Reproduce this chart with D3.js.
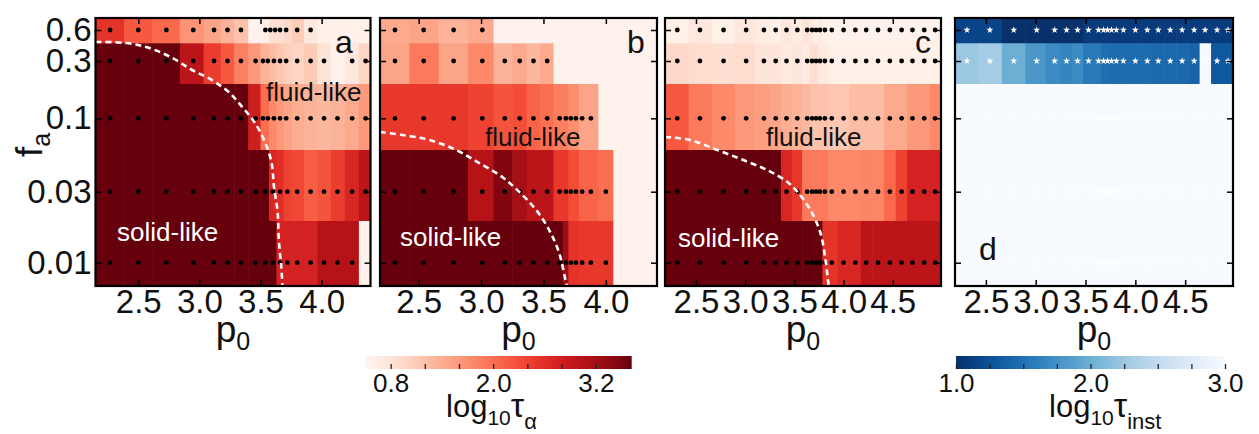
<!DOCTYPE html>
<html><head><meta charset="utf-8">
<script src="https://cdn.jsdelivr.net/npm/d3@7"></script>
<style>
body{margin:0;background:#fff}
text{font-family:"Liberation Sans",Arial,Helvetica,sans-serif}
</style></head>
<body><svg id="fig" width="1259" height="434"></svg>
<script>
// ---------------- data ----------------
const faValues = [0.6, 0.3, 0.1, 0.03, 0.01];
const faCellTop = [0.85, 0.45, 0.2, 0.05, 0.018];
const faCellBottom = [0.45, 0.2, 0.05, 0.018, 0.005];
const p0TicksAB = [2.5, 3.0, 3.5, 4.0];
const p0TicksCD = [2.5, 3.0, 3.5, 4.0, 4.5];

const p0GridA = [2.27, 2.50, 2.73, 2.95, 3.12, 3.23, 3.34, 3.46, 3.54, 3.60, 3.66, 3.72, 3.80, 3.91, 4.02, 4.13, 4.25, 4.36];
const p0GridBCD = [2.31, 2.54, 2.78, 3.01, 3.19, 3.31, 3.42, 3.53, 3.63, 3.68, 3.72, 3.76, 3.81, 3.88, 4.00, 4.12, 4.23, 4.35, 4.47, 4.59, 4.70, 4.82, 4.93];

// log10 tau_alpha, rows fa = 0.6, 0.3, 0.1, 0.03, 0.01
const tauA = [
  [2.55, 2.2, 2.05, 1.65, 1.5, 1.35, 1.2, 0.55, 0.6, 0.85, 0.85, 0.95, 1.1, 0.75, 0.58, 0.58, 0.58, 0.58],
  [3.62, 3.62, 3.62, 3.0, 2.45, 2.2, 1.85, 1.6, 1.35, 1.25, 1.15, 1.05, 1.0, 1.1, 0.8, 0.55, 0.75, 1.0],
  [3.62, 3.62, 3.62, 3.62, 3.62, 3.62, 3.62, 2.8, 2.0, 1.75, 1.6, 1.5, 1.4, 1.35, 1.3, 1.35, 1.45, 1.6],
  [3.62, 3.62, 3.62, 3.62, 3.62, 3.62, 3.62, 3.62, 3.62, 2.7, 2.6, 2.4, 2.35, 2.15, 2.25, 2.45, 2.7, 3.0],
  [3.62, 3.62, 3.62, 3.62, 3.62, 3.62, 3.62, 3.62, 3.62, 3.62, 2.75, 2.75, 2.75, 2.75, 3.05, 3.05, 3.05, 0.55]
];
const tauB = [
  [1.45, 1.5, 1.35, 1.45, 0.55, 0.55, 0.55, 0.55, 0.55, 0.55, 0.55, 0.55, 0.55, 0.55, 0.55, 0.55, 0.55, 0.55, 0.55, 0.55, 0.55, 0.55, 0.55],
  [1.5, 1.9, 1.5, 1.75, 1.35, 1.45, 1.3, 1.45, 0.55, 0.55, 0.55, 0.55, 0.55, 0.55, 0.55, 0.55, 0.55, 0.55, 0.55, 0.55, 0.55, 0.55, 0.55],
  [2.5, 2.5, 2.5, 2.4, 2.25, 2.3, 2.1, 2.0, 1.85, 1.85, 1.7, 1.7, 1.5, 1.5, 0.55, 0.55, 0.55, 0.55, 0.55, 0.55, 0.55, 0.55, 0.55],
  [3.62, 3.62, 3.62, 3.05, 3.45, 3.2, 3.0, 3.0, 2.5, 2.5, 2.3, 2.3, 2.1, 2.1, 2.0, 0.55, 0.55, 0.55, 0.55, 0.55, 0.55, 0.55, 0.55],
  [3.62, 3.62, 3.62, 3.62, 3.62, 3.62, 3.62, 3.62, 3.62, 3.25, 2.55, 2.55, 2.5, 2.5, 2.5, 0.55, 0.55, 0.55, 0.55, 0.55, 0.55, 0.55, 0.55]
];
const tauC = [
  [0.6, 0.75, 0.6, 0.75, 0.65, 0.6, 0.75, 0.65, 0.8, 0.7, 0.6, 0.65, 0.6, 0.55, 0.55, 0.55, 0.55, 0.55, 0.55, 0.55, 0.55, 0.55, 0.55],
  [0.95, 0.9, 0.85, 0.9, 0.78, 0.78, 0.7, 0.75, 0.68, 0.85, 0.85, 0.7, 0.7, 0.6, 0.6, 0.6, 0.6, 0.6, 0.6, 0.6, 0.6, 0.6, 0.6],
  [2.2, 1.9, 1.75, 1.6, 1.55, 1.5, 1.4, 1.35, 1.3, 1.2, 1.2, 1.2, 1.2, 1.15, 1.15, 1.25, 1.25, 1.25, 1.45, 1.45, 1.6, 1.6, 1.75],
  [3.62, 3.62, 3.62, 3.62, 3.62, 3.62, 2.7, 2.5, 1.9, 1.9, 1.9, 1.9, 1.9, 1.75, 1.75, 1.75, 1.8, 1.8, 2.05, 2.4, 2.75, 2.75, 2.75],
  [3.62, 3.62, 3.62, 3.62, 3.62, 3.62, 3.62, 3.62, 3.62, 3.62, 3.62, 3.62, 2.55, 2.55, 2.7, 2.7, 3.0, 3.0, 3.0, 3.0, 3.0, 3.0, 3.0]
];
// log10 tau_inst
const tauInstD = [
  [1.15, 1.15, 1.0, 1.0, 1.0, 1.0, 1.0, 1.08, 1.08, 1.08, 1.08, 1.08, 1.08, 1.08, 1.08, 1.08, 1.08, 1.08, 1.08, 1.08, 1.08, 1.08, 1.08],
  [2.24, 2.3, 2.0, 1.8, 1.7, 1.65, 1.7, 1.56, 1.56, 1.48, 1.48, 1.46, 1.46, 1.46, 1.46, 1.46, 1.43, 1.43, 1.43, 1.4, 3.0, 1.3, 1.3],
  [3.0, 3.0, 3.0, 3.0, 3.0, 3.0, 3.0, 3.0, 3.0, 3.0, 3.0, 3.0, 3.0, 3.0, 3.0, 3.0, 3.0, 3.0, 3.0, 3.0, 3.0, 3.0, 3.0],
  [3.0, 3.0, 3.0, 3.0, 3.0, 3.0, 3.0, 3.0, 3.0, 3.0, 3.0, 3.0, 3.0, 3.0, 3.0, 3.0, 3.0, 3.0, 3.0, 3.0, 3.0, 3.0, 3.0],
  [3.0, 3.0, 3.0, 3.0, 3.0, 3.0, 3.0, 3.0, 3.0, 3.0, 3.0, 3.0, 3.0, 3.0, 3.0, 3.0, 3.0, 3.0, 3.0, 3.0, 3.0, 3.0, 3.0]
];

// simulated state points (dots), p0 per fa row
const dotsA = [
  [2.27, 2.50, 2.73, 2.95, 3.12, 3.23, 3.34, 3.54, 3.58, 3.62, 3.66, 3.71, 3.80, 3.91],
  [2.27, 2.50, 2.73, 2.95, 3.12, 3.23, 3.34, 3.46, 3.52, 3.56, 3.61, 3.66, 3.71, 3.80, 3.91, 4.02, 4.25, 4.36],
  [2.27, 2.50, 2.73, 2.95, 3.12, 3.23, 3.34, 3.46, 3.52, 3.56, 3.61, 3.66, 3.71, 3.80, 3.91, 4.02, 4.13, 4.25, 4.36],
  [2.27, 2.50, 2.73, 2.95, 3.12, 3.23, 3.34, 3.46, 3.54, 3.60, 3.66, 3.72, 3.80, 3.91, 4.02, 4.13, 4.25, 4.36],
  [2.27, 2.50, 2.73, 2.95, 3.12, 3.23, 3.34, 3.46, 3.54, 3.60, 3.66, 3.72, 3.80, 3.91, 4.02, 4.13, 4.25]
];
const dotsB = [
  [2.31, 2.54, 2.78, 3.01],
  [2.31, 2.54, 2.78, 3.01, 3.19, 3.31, 3.42, 3.53],
  [2.31, 2.54, 2.78, 3.01, 3.19, 3.31, 3.42, 3.53, 3.63, 3.68, 3.72, 3.76, 3.81, 3.88],
  [2.31, 2.54, 2.78, 3.01, 3.19, 3.31, 3.42, 3.53, 3.63, 3.68, 3.72, 3.76, 3.81, 3.88, 4.00],
  [2.31, 2.54, 2.78, 3.01, 3.19, 3.31, 3.42, 3.53, 3.63, 3.68, 3.72, 3.76, 3.81, 3.88, 4.00]
];

// solid/fluid boundary (dashed), [p0, fa]
const boundaryA = [[2.15,0.463],[2.40,0.453],[2.59,0.404],[2.78,0.321],[2.94,0.256],[3.10,0.215],[3.24,0.170],[3.35,0.126],[3.45,0.092],[3.53,0.062],[3.59,0.043],[3.61,0.032],[3.64,0.021],[3.65,0.0138],[3.67,0.0088],[3.68,0.005]];
const boundaryB = [[2.19,0.0741],[2.37,0.0694],[2.585,0.0622],[2.80,0.05],[2.985,0.0426],[3.17,0.0359],[3.306,0.0299],[3.442,0.0218],[3.546,0.01585],[3.626,0.01146],[3.682,0.00547],[3.69,0.005]];
const boundaryC = [[2.185,0.0665],[2.442,0.0622],[2.717,0.05],[2.981,0.0442],[3.225,0.0391],[3.429,0.0338],[3.531,0.0299],[3.663,0.0218],[3.765,0.0152],[3.816,0.01038],[3.847,0.00515]];

const redTicks = [0.8, 1.2, 1.6, 2.0, 2.4, 2.8, 3.2];
const redTickLabels = [0.8, 2.0, 3.2];
const blueTicks = [1.0, 1.25, 1.5, 1.75, 2.0, 2.25, 2.5, 2.75, 3.0];
const blueTickLabels = [1.0, 2.0, 3.0];

// ---------------- drawing ----------------
const svg = d3.select('#fig');
const FONT = '"Liberation Sans",Arial,Helvetica,sans-serif';
const TOP = 18, H = 268;
const y = d3.scaleLog()
  .domain([0.85, 0.6, 0.45, 0.3, 0.2, 0.1, 0.05, 0.03, 0.018, 0.01, 0.005])
  .range([0, 12, 25.3, 43, 66, 100.3, 132, 173.7, 203, 244.7, 268]);

const red = d3.scaleSequential(d3.interpolateReds).domain([0.5, 3.62]);
const blue = d3.scaleSequential(d3.interpolateBlues).domain([3, 1]);

const panels = [
  {key:'a', x0:95.5, w:275, dom:[2.15, 4.40], ticks:p0TicksAB, grid:p0GridA, vals:tauA, color:red, dots:dotsA, dotType:'circle', boundary:boundaryA, yLabels:true},
  {key:'b', x0:380, w:277, dom:[2.19, 4.41], ticks:p0TicksAB, grid:p0GridBCD, vals:tauB, color:red, dots:dotsB, dotType:'circle', boundary:boundaryB},
  {key:'c', x0:665, w:276, dom:[2.185, 4.99], ticks:p0TicksCD, grid:p0GridBCD, vals:tauC, color:red, dots:faValues.map(()=>p0GridBCD), dotType:'circle', boundary:boundaryC},
  {key:'d', x0:955, w:278, dom:[2.19, 4.98], ticks:p0TicksCD, grid:p0GridBCD, vals:tauInstD, color:blue, dots:faValues.map(()=>p0GridBCD), dotType:'star'}
];

const defs = svg.append('defs');

panels.forEach(p => {
  const x = d3.scaleLinear().domain(p.dom).range([0, p.w]);
  const g = svg.append('g').attr('transform', `translate(${p.x0},${TOP})`);
  const clipId = 'clip-' + p.key;
  defs.append('clipPath').attr('id', clipId).append('rect').attr('width', p.w).attr('height', H);
  const inner = g.append('g').attr('clip-path', `url(#${clipId})`);

  // cell edges: midpoints between grid columns
  const edges = [p.dom[0]];
  for (let j = 0; j < p.grid.length - 1; j++) edges.push((p.grid[j] + p.grid[j+1]) / 2);
  edges.push(Math.max(p.dom[1], p.grid[p.grid.length-1]));

  const cells = [];
  p.vals.forEach((row, i) => row.forEach((v, j) => cells.push({i, j, v})));
  inner.selectAll('rect.cell').data(cells).join('rect')
    .attr('class', 'cell')
    .attr('x', d => x(edges[d.j]))
    .attr('width', d => x(edges[d.j+1]) - x(edges[d.j]) + 0.6)
    .attr('y', d => y(faCellTop[d.i]))
    .attr('height', d => y(faCellBottom[d.i]) - y(faCellTop[d.i]) + 0.6)
    .attr('fill', d => p.color(d.v));

  // dots
  const pts = [];
  p.dots.forEach((row, i) => row.forEach(v => pts.push({p0: v, fa: faValues[i]})));
  if (p.dotType === 'circle') {
    inner.selectAll('circle.dot').data(pts).join('circle')
      .attr('class', 'dot').attr('cx', d => x(d.p0)).attr('cy', d => y(d.fa))
      .attr('r', 2.4).attr('fill', '#000');
  } else {
    const star = d3.symbol().type(d3.symbolStar).size(15);
    inner.selectAll('path.dot').data(pts).join('path')
      .attr('class', 'dot').attr('d', star)
      .attr('transform', d => `translate(${x(d.p0)},${y(d.fa)})`)
      .attr('fill', '#fff').attr('opacity', d => d.fa >= 0.3 ? 1 : 0.7);
  }

  // boundary
  if (p.boundary) {
    inner.append('path').datum(p.boundary)
      .attr('d', d3.line().x(d => x(d[0])).y(d => y(d[1])).curve(d3.curveCatmullRom))
      .attr('fill', 'none').attr('stroke', '#fff').attr('stroke-width', 2.6)
      .attr('stroke-dasharray', '6,4');
  }

  // axes (ticks inward on all sides)
  const styleAxis = sel => {
    sel.select('.domain').remove();
    sel.selectAll('line').attr('stroke', '#000').attr('stroke-width', 1.5);
    sel.selectAll('text').attr('font-family', FONT).attr('font-size', 33).attr('fill', '#111');
  };
  g.append('g').attr('transform', `translate(0,${H})`)
    .call(d3.axisBottom(x).tickValues(p.ticks).tickFormat(d3.format('.1f')).tickSize(-6).tickPadding(4))
    .call(styleAxis);
  g.append('g')
    .call(d3.axisTop(x).tickValues(p.ticks).tickFormat('').tickSize(-6))
    .call(styleAxis);
  g.append('g')
    .call(d3.axisLeft(y).tickValues(faValues).tickFormat(p.yLabels ? (d => String(d)) : '').tickSize(-6).tickPadding(4))
    .call(styleAxis);
  g.append('g').attr('transform', `translate(${p.w},0)`)
    .call(d3.axisRight(y).tickValues(faValues).tickFormat('').tickSize(-6))
    .call(styleAxis);

  // frame
  g.append('rect').attr('width', p.w).attr('height', H)
    .attr('fill', 'none').attr('stroke', '#000').attr('stroke-width', 2.2);

  // x label p0
  const xl = g.append('text').attr('x', p.w / 2).attr('y', 342 - TOP)
    .attr('text-anchor', 'middle').attr('font-size', 37).attr('fill', '#111');
  xl.append('tspan').text('p');
  xl.append('tspan').attr('font-size', 25).attr('dy', 8).text('0');
});

// y label f_a
const yl = svg.append('text').attr('transform', 'translate(42,145) rotate(-90)')
  .attr('text-anchor', 'middle').attr('font-size', 37).attr('fill', '#111');
yl.append('tspan').text('f');
yl.append('tspan').attr('font-size', 25).attr('dy', 8).text('a');

// panel letters & region labels
const txt = (x, yy, s, size, fill) => svg.append('text').attr('x', x).attr('y', yy)
  .attr('font-size', size).attr('fill', fill).text(s);
txt(335, 53, 'a', 32, '#111');
txt(627, 53, 'b', 32, '#111');
txt(915, 53, 'c', 32, '#111');
txt(979, 260, 'd', 32, '#111');
txt(266, 101, 'fluid-like', 26, '#111');
txt(485, 146, 'fluid-like', 26, '#111');
txt(766, 146, 'fluid-like', 26, '#111');
txt(117, 241, 'solid-like', 26, '#fff');
txt(400, 246, 'solid-like', 26, '#fff');
txt(678, 247, 'solid-like', 26, '#fff');

// colorbars
function colorbar(id, scale, domain, x0, x1, ticks, labels, fmt) {
  const cx = d3.scaleLinear().domain(domain).range([x0, x1]);
  const grad = defs.append('linearGradient').attr('id', id);
  d3.range(0, 1.0001, 0.05).forEach(t => {
    grad.append('stop').attr('offset', t).attr('stop-color', scale(domain[0] + t * (domain[1] - domain[0])));
  });
  svg.append('rect').attr('x', x0).attr('y', 356).attr('width', x1 - x0).attr('height', 13)
    .attr('fill', `url(#${id})`);
  const ax = svg.append('g').attr('transform', 'translate(0,369)')
    .call(d3.axisBottom(cx).tickValues(ticks).tickSize(-5).tickPadding(5)
      .tickFormat(d => labels.some(l => Math.abs(l - d) < 1e-9) ? fmt(d) : ''));
  ax.select('.domain').remove();
  ax.selectAll('line').attr('stroke', '#222').attr('stroke-width', 1.3);
  ax.selectAll('text').attr('font-family', FONT).attr('font-size', 26).attr('fill', '#111');
}
colorbar('gradRed', red, [0.5, 3.62], 365, 631.7, redTicks, redTickLabels, d3.format('.1f'));
colorbar('gradBlue', blue, [1, 3], 956, 1225, blueTicks, blueTickLabels, d3.format('.1f'));

// colorbar labels
const l1 = svg.append('text').attr('x', 446).attr('y', 417).attr('font-size', 31).attr('fill', '#111');
l1.append('tspan').text('log');
l1.append('tspan').attr('font-size', 21).attr('dy', 8).text('10');
l1.append('tspan').attr('font-size', 34).attr('dy', -8).text('τ');
l1.append('tspan').attr('font-size', 22).attr('dy', 12).text('α');
const l2 = svg.append('text').attr('x', 1049).attr('y', 417).attr('font-size', 31).attr('fill', '#111');
l2.append('tspan').text('log');
l2.append('tspan').attr('font-size', 21).attr('dy', 8).text('10');
l2.append('tspan').attr('font-size', 34).attr('dy', -8).text('τ');
l2.append('tspan').attr('font-size', 22).attr('dy', 12).text('inst');
</script></body></html>
